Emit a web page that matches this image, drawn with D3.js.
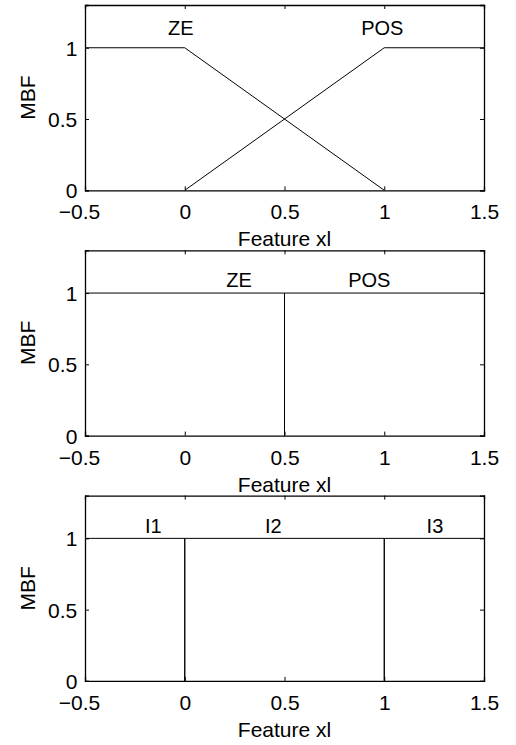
<!DOCTYPE html>
<html>
<head>
<meta charset="utf-8">
<script src="https://cdn.jsdelivr.net/npm/d3@7"></script>
<style>
  html, body { margin: 0; padding: 0; background: #fff; }
  svg { display: block; font-family: "Liberation Sans", Arial, Helvetica, sans-serif; }
</style>
</head>
<body>
<svg id="chart" width="516" height="745"></svg>
<script>
// ---- data ----
const xDomain = [-0.5, 1.5];
const yDomain = [0, 1.3];
const xTicks = [-0.5, 0, 0.5, 1, 1.5];
const yTicks = [0, 0.5, 1];
const xTickLabels = ["\u22120.5", "0", "0.5", "1", "1.5"];
const yTickLabels = ["0", "0.5", "1"];
const xLabel = "Feature xl";
const yLabel = "MBF";

// panel 1: trapezoidal fuzzy sets
const p1_ZE_x = [-0.5, 0, 1];
const p1_ZE_y = [1, 1, 0];
const p1_POS_x = [0, 1, 1.5];
const p1_POS_y = [0, 1, 1];
const p1_labels = ["ZE", "POS"];
const p1_labelX = [-0.02, 0.99];
const p1_labelY = [1.138, 1.138];

// panel 2: crisp sets split at 0.5
const p2_ZE_x = [-0.5, 0.5, 0.5];
const p2_ZE_y = [1, 1, 0];
const p2_POS_x = [0.5, 0.5, 1.5];
const p2_POS_y = [0, 1, 1];
const p2_labels = ["ZE", "POS"];
const p2_labelX = [0.272, 0.925];
const p2_labelY = [1.092, 1.092];

// panel 3: three intervals
const p3_I1_x = [-0.5, 0, 0];
const p3_I1_y = [1, 1, 0];
const p3_I2_x = [0, 0, 1, 1];
const p3_I2_y = [0, 1, 1, 0];
const p3_I3_x = [1, 1, 1.5];
const p3_I3_y = [0, 1, 1];
const p3_labels = ["I1", "I2", "I3"];
const p3_labelX = [-0.158, 0.444, 1.254];
const p3_labelY = [1.087, 1.087, 1.087];

const panels = [
  { series: [[p1_ZE_x, p1_ZE_y], [p1_POS_x, p1_POS_y]], labels: p1_labels, lx: p1_labelX, ly: p1_labelY },
  { series: [[p2_ZE_x, p2_ZE_y], [p2_POS_x, p2_POS_y]], labels: p2_labels, lx: p2_labelX, ly: p2_labelY },
  { series: [[p3_I1_x, p3_I1_y], [p3_I2_x, p3_I2_y], [p3_I3_x, p3_I3_y]], labels: p3_labels, lx: p3_labelX, ly: p3_labelY }
];

// ---- layout ----
const svg = d3.select("#chart");
const left = 85, right = 484;
const panelH = 185.3;
const panelTops = [5, 250.3, 495.6];
const tickLen = 4;
const fsTick = 21, fsLabel = 21, fsText = 20;

const x = d3.scaleLinear().domain(xDomain).range([left, right]);

panels.forEach((p, i) => {
  const top = panelTops[i];
  const bottom = top + panelH;
  const y = d3.scaleLinear().domain(yDomain).range([bottom, top]);
  const g = svg.append("g");

  // data lines
  const line = d3.line().x(d => x(d[0])).y(d => y(d[1]));
  p.series.forEach(([xs, ys]) => {
    g.append("path")
      .attr("d", line(xs.map((v, k) => [v, ys[k]])))
      .attr("fill", "none")
      .attr("stroke", "#000")
      .attr("stroke-width", 1);
  });

  // axes (inward ticks, box)
  const axB = d3.axisBottom(x).tickValues(xTicks).tickSize(-tickLen).tickFormat((d, k) => xTickLabels[k]);
  const axT = d3.axisTop(x).tickValues(xTicks).tickSize(-tickLen).tickFormat("");
  const axL = d3.axisLeft(y).tickValues(yTicks).tickSize(-tickLen).tickFormat((d, k) => yTickLabels[k]);
  const axR = d3.axisRight(y).tickValues(yTicks).tickSize(-tickLen).tickFormat("");

  const gB = g.append("g").attr("transform", `translate(0,${bottom})`).call(axB);
  const gT = g.append("g").attr("transform", `translate(0,${top})`).call(axT);
  const gL = g.append("g").attr("transform", `translate(${left},0)`).call(axL);
  const gR = g.append("g").attr("transform", `translate(${right},0)`).call(axR);

  [gB, gT, gL, gR].forEach(a => {
    a.select(".domain").attr("stroke", "#000").attr("stroke-width", 1.3);
    a.selectAll(".tick line").attr("stroke", "#000").attr("stroke-width", 1);
  });

  gB.selectAll(".tick text")
    .attr("font-size", fsTick)
    .attr("font-family", "Liberation Sans, Arial, sans-serif")
    .attr("fill", "#000")
    .attr("dy", null)
    .attr("y", 29)
    .attr("dx", (d) => d < 0 ? -6 : 0);

  gL.selectAll(".tick text")
    .attr("font-size", fsTick)
    .attr("font-family", "Liberation Sans, Arial, sans-serif")
    .attr("fill", "#000")
    .attr("x", -7.7)
    .attr("dy", "0.36em");

  // y label
  g.append("text")
    .attr("transform", `translate(35,${(top + bottom) / 2}) rotate(-90)`)
    .attr("text-anchor", "middle")
    .attr("font-size", fsLabel)
    .attr("fill", "#000")
    .text(yLabel);

  // x label
  g.append("text")
    .attr("x", (left + right) / 2)
    .attr("y", bottom + 56)
    .attr("text-anchor", "middle")
    .attr("font-size", fsLabel)
    .attr("fill", "#000")
    .text(xLabel);

  // set labels
  p.labels.forEach((t, k) => {
    g.append("text")
      .attr("x", x(p.lx[k]))
      .attr("y", y(p.ly[k]))
      .attr("dy", "0.36em")
      .attr("text-anchor", "middle")
      .attr("font-size", fsText)
      .attr("fill", "#000")
      .text(t);
  });
});
</script>
</body>
</html>
